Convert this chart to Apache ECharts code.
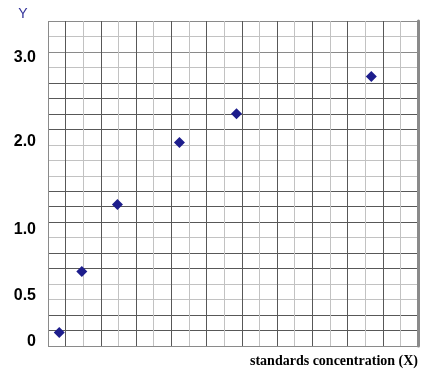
<!DOCTYPE html>
<html>
<head>
<meta charset="utf-8">
<script src="https://cdn.jsdelivr.net/npm/echarts@6/dist/echarts.min.js"></script>
<style>
html,body{margin:0;padding:0;background:#fff;}
#chart{width:425px;height:374px;}
</style>
</head>
<body>
<div id="chart"></div>
<script>
// Data
const concentration = [0.64, 1.92, 3.94, 7.46, 10.70, 18.35];
const response = [0.04, 0.68, 1.38, 2.03, 2.33, 2.72];
const yTickLabels = [0, 0.5, 1.0, 2.0, 3.0];
const xAxisTitle = 'standards concentration (X)';
const yAxisTitle = 'Y';

const D = '#585858', L = '#c2c2c2', M = '#8a8a8a';
// grid line shades, bottom to top
const hLineShades = [M, D, D, L, L, D, D, L, D, D, D, L, L, L, D, D, D, D, L, M, L, M];
// grid line shades, left to right
const vLineShades = [M, D, L, D, L, D, L, D, L, D, L, D, L, D, L, D, L, D, L, D, L, M];

// the reference prints its tick labels slightly off the scale; nudge them the same way
const labelNudge = {
  t0: {padding: [10, 0, 0, 0]},
  t1: {padding: [14, 0, 0, 0]},
  t2: {padding: [0, 0, 22, 0]},
  t3: {padding: [0, 0, 8, 0]},
  t4: {padding: [16, 0, 0, 0]}
};

const chart = echarts.init(document.getElementById('chart'), null, {renderer: 'canvas'});
chart.setOption({
  backgroundColor: '#ffffff',
  animation: false,
  grid: {left: 48, top: 21, right: 7, bottom: 28, containLabel: false},
  xAxis: {
    type: 'value', min: 0, max: 21, interval: 1,
    name: xAxisTitle, nameLocation: 'end', nameGap: 0,
    nameTextStyle: {
      fontFamily: 'Liberation Serif', fontWeight: 'bold', fontSize: 14, color: '#000',
      align: 'right', verticalAlign: 'top', lineHeight: 14, padding: [8, 0, 0, 0]
    },
    axisLine: {show: false}, axisTick: {show: false}, axisLabel: {show: false},
    splitLine: {show: true, lineStyle: {color: vLineShades, width: 1}}
  },
  yAxis: [
    {
      type: 'value', min: 0, max: 21, interval: 1, position: 'right',
      axisLine: {show: true, onZero: false, lineStyle: {color: '#8a8a8a', width: 3}},
      axisTick: {show: false}, axisLabel: {show: false},
      splitLine: {show: true, lineStyle: {color: hLineShades, width: 1}}
    },
    {
      type: 'value', min: -0.1, max: 3.3, position: 'left',
      name: yAxisTitle, nameLocation: 'end', nameGap: 0,
      nameTextStyle: {fontFamily: 'Liberation Sans', fontSize: 14, color: '#33339a', padding: [0, 50, 0, 0]},
      axisLine: {show: false}, axisTick: {show: false}, splitLine: {show: false},
      axisLabel: {
        show: true, customValues: yTickLabels, margin: 12,
        fontFamily: 'Liberation Sans', fontWeight: 'bold', fontSize: 16, color: '#000',
        formatter: v => {
          const i = yTickLabels.indexOf(v);
          const txt = v === 0 ? '0' : v.toFixed(1);
          return i >= 0 ? '{t' + i + '|' + txt + '}' : txt;
        },
        rich: labelNudge
      }
    }
  ],
  series: [{
    type: 'scatter', xAxisIndex: 0, yAxisIndex: 1,
    symbol: 'diamond', symbolSize: [11, 11],
    itemStyle: {color: '#1d1d8c', opacity: 1},
    data: concentration.map((c, i) => [c, response[i]])
  }]
});
</script>
</body>
</html>
